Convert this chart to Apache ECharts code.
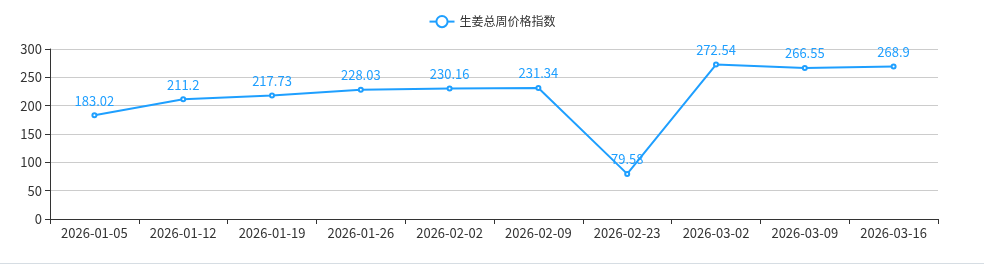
<!DOCTYPE html>
<html><head><meta charset="utf-8">
<script src="https://cdn.jsdelivr.net/npm/echarts@6/dist/echarts.min.js"></script>
<style>
html,body{margin:0;padding:0;background:#fff;}
#c{width:984px;height:263px;border-bottom:1px solid #d6dde3;}
</style></head>
<body><div id="c"></div>
<script>
const categories = ['2026-01-05','2026-01-12','2026-01-19','2026-01-26','2026-02-02','2026-02-09','2026-02-23','2026-03-02','2026-03-09','2026-03-16'];
const values = [183.02,211.2,217.73,228.03,230.16,231.34,79.58,272.54,266.55,268.9];
const seriesName = '生姜总周价格指数';
const chart = echarts.init(document.getElementById('c'));
const font = '"Microsoft YaHei","Noto Sans CJK SC",sans-serif';
chart.setOption({
  animation:false,
  textStyle:{fontFamily:font},
  legend:{top:10,left:'center',itemWidth:25,itemHeight:14,textStyle:{color:'#333',fontSize:12,fontFamily:font},data:[seriesName]},
  grid:{left:50,right:46,top:49,bottom:44},
  xAxis:{type:'category',data:categories,boundaryGap:true,
    axisLine:{lineStyle:{color:'#333'}},axisTick:{show:true,lineStyle:{color:'#333'}},
    axisLabel:{color:'#333',fontSize:13,margin:8,interval:0,fontFamily:font}},
  yAxis:{type:'value',min:0,max:300,interval:50,
    axisLine:{show:true,lineStyle:{color:'#333'}},axisTick:{show:true,lineStyle:{color:'#333'}},
    axisLabel:{color:'#333',fontSize:13,fontFamily:font},
    splitLine:{lineStyle:{color:'#ccc'}}},
  series:[{name:seriesName,type:'line',data:values,symbol:'emptyCircle',symbolSize:4,
    itemStyle:{color:'#1E9FFF'},lineStyle:{color:'#1E9FFF',width:2},
    label:{show:true,position:'top',color:'#1E9FFF',fontSize:13,fontFamily:font}}]
});
</script></body></html>
